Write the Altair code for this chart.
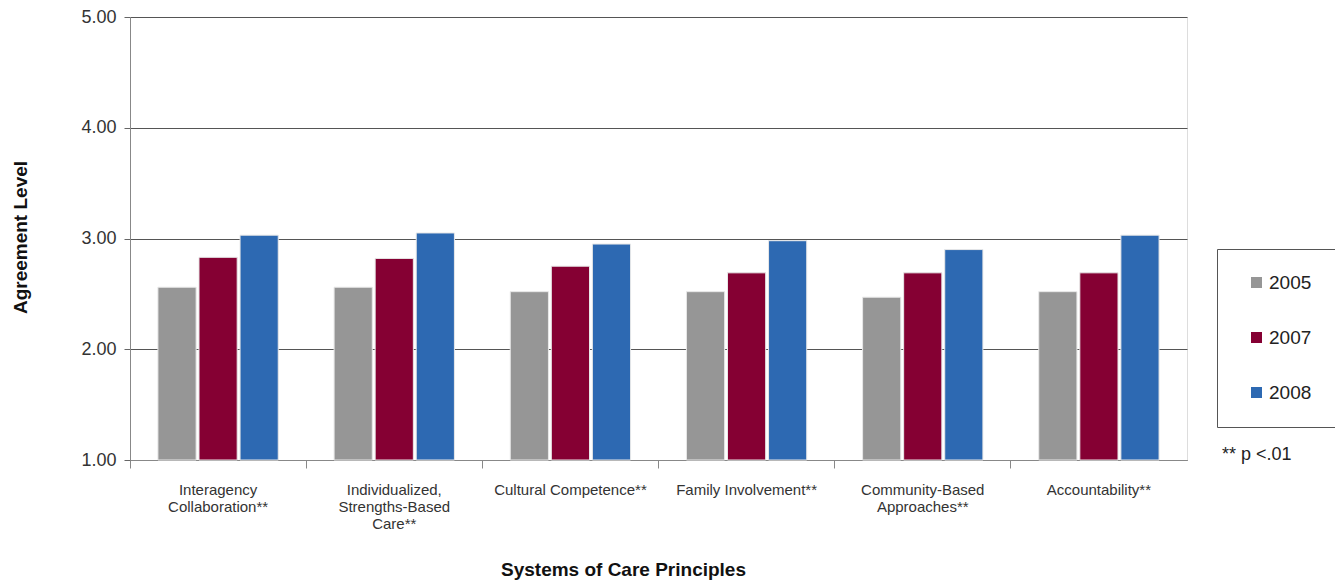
import altair as alt
import pandas as pd

categories = [
    "Interagency|Collaboration**",
    "Individualized,|Strengths-Based|Care**",
    "Cultural Competence**",
    "Family Involvement**",
    "Community-Based|Approaches**",
    "Accountability**",
]
years = ["2005", "2007", "2008"]
v2005 = [2.56, 2.56, 2.52, 2.52, 2.47, 2.52]
v2007 = [2.83, 2.82, 2.75, 2.69, 2.69, 2.69]
v2008 = [3.03, 3.05, 2.95, 2.98, 2.90, 3.03]
colors = ["#969696", "#850033", "#2D69B2"]
y_ticks = [1, 2, 3, 4, 5]

rows = []
for i, c in enumerate(categories):
    for y, vals in zip(years, [v2005, v2007, v2008]):
        rows.append({"category": c, "year": y, "value": vals[i]})
df = pd.DataFrame(rows)

FONT = "Liberation Sans"

bars = alt.Chart(df).mark_bar(stroke="#e8e8e8", strokeWidth=1).encode(
    x=alt.X(
        "category:N",
        sort=categories,
        scale=alt.Scale(paddingInner=0, paddingOuter=0),
        axis=alt.Axis(
            title="Systems of Care Principles",
            labelExpr="split(datum.label, '|')",
            labelAngle=0,
            labelFont=FONT,
            labelFontSize=15,
            labelColor="#333333",
            labelPadding=14,
            labelLineHeight=17,
            labelBaseline="top",
            bandPosition=0,
            tickSize=8,
            tickColor="#888888",
            domainColor="#888888",
            titleFont=FONT,
            titleFontSize=19,
            titleFontWeight="bold",
            titleColor="#111111",
            titleX=493,
            titleY=109,
            titleAlign="center",
            titleBaseline="middle",
        ),
    ),
    xOffset=alt.XOffset("year:N", sort=years,
                        scale=alt.Scale(paddingInner=0.07, paddingOuter=0.68)),
    y=alt.Y(
        "value:Q",
        scale=alt.Scale(domain=[1, 5], zero=False, nice=False),
        axis=alt.Axis(
            title="Agreement Level",
            values=y_ticks,
            format=".2f",
            labelFont=FONT,
            labelFontSize=18,
            labelColor="#333333",
            labelPadding=8,
            tickSize=6,
            tickColor="#666666",
            domainColor="#888888",
            gridColor="#555555",
            gridWidth=1,
            titleFont=FONT,
            titleFontSize=19,
            titleFontWeight="bold",
            titleColor="#111111",
            titleX=-110,
            titleY=220,
            titleAngle=-90,
            titleAlign="center",
            titleBaseline="middle",
        ),
    ),
    y2=alt.datum(1),
    color=alt.Color(
        "year:N",
        sort=years,
        scale=alt.Scale(domain=years, range=colors),
        legend=alt.Legend(
            title=None,
            orient="none",
            legendX=1087,
            legendY=232,
            symbolType="square",
            symbolSize=121,
            symbolStrokeWidth=0,
            symbolOffset=6,
            labelFont=FONT,
            labelFontSize=19,
            labelColor="#222222",
            labelOffset=3,
            strokeColor="#555555",
            fillColor="white",
            padding=24,
            rowPadding=35,
        ),
    ),
)

note = alt.Chart(pd.DataFrame({"note": ["** p <.01"]})).mark_text(
    align="left", baseline="middle", font=FONT, fontSize=18, color="#222222"
).encode(
    text="note:N",
    x=alt.value(1092),
    y=alt.value(438),
)

chart = alt.layer(bars, note).properties(
    width=1057,
    height=443,
    autosize="none",
    padding={"left": 122, "top": 9, "right": 148, "bottom": 120},
).configure_view(stroke="#888888", strokeWidth=1).configure(background="white")

chart.save("out.html", embed_options={"renderer": "svg", "actions": False})
